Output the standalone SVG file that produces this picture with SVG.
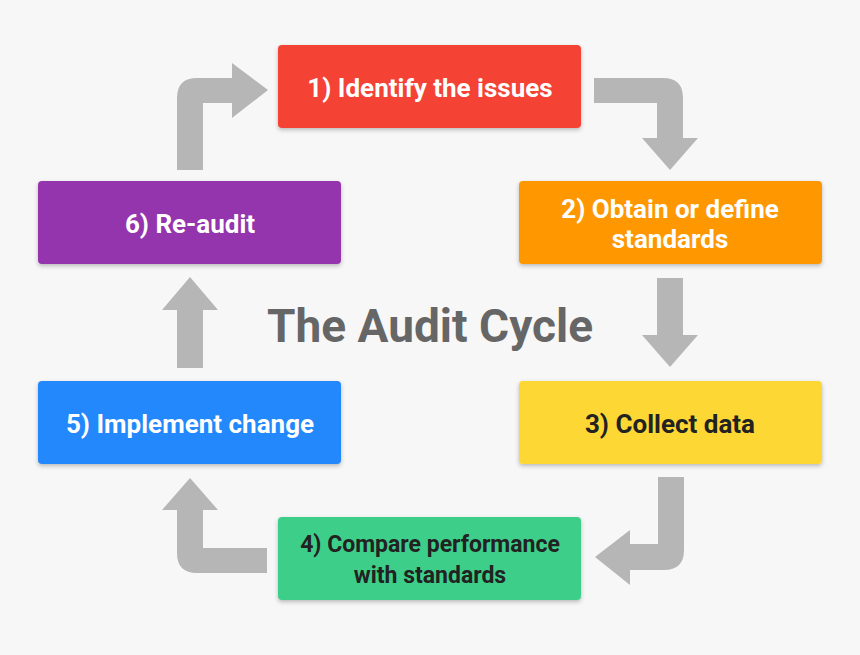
<svg xmlns="http://www.w3.org/2000/svg" width="860" height="655" viewBox="0 0 860 655">
<defs>
<filter id="sh" x="-10%" y="-20%" width="120%" height="150%"><feDropShadow dx="0" dy="2" stdDeviation="2" flood-opacity="0.25"/></filter>
<style>
.b{filter:url(#sh)}
.t{font-family:Roboto,"Liberation Sans",sans-serif;font-weight:bold;font-size:26px;text-anchor:middle;fill:#fff}
.d{fill:#222}
.a{fill:#b5b6b5}
</style>
</defs>
<rect width="860" height="655" fill="#f7f7f7"/>
<g id="connectors">
<path class="a" d="M177,170 L177,98 Q177,78 197,78 L232,78 L232,63 L268,90 L232,118 L232,103 L203,103 L203,170 Z"/>
<path class="a" d="M594,78 L663,78 Q683,78 683,98 L683,138 L698,138 L670,170 L642,138 L657,138 L657,103 L594,103 Z"/>
<path class="a" d="M657,278 L683,278 L683,335 L698,335 L670,367 L642,335 L657,335 Z"/>
<path class="a" d="M658,477 L684,477 L684,550 Q684,570 664,570 L630,570 L630,585 L595,557 L630,530 L630,544 L658,544 Z"/>
<path class="a" d="M267,548 L267,573 L197,573 Q177,573 177,553 L177,510 L162,510 L190,478 L218,510 L203,510 L203,548 Z"/>
<path class="a" d="M177,368 L177,310 L162,310 L190,277 L218,310 L203,310 L203,368 Z"/>
</g>
<g id="n1"><rect class="b" x="278" y="45" width="303" height="83" rx="4" fill="#f44336"/><text class="t" x="430" y="97">1) Identify the issues</text></g>
<g id="n2"><rect class="b" x="519" y="181" width="303" height="83" rx="4" fill="#ff9800"/><text class="t" x="670" y="218">2) Obtain or define</text><text class="t" x="670" y="248">standards</text></g>
<g id="n3"><rect class="b" x="519" y="381" width="303" height="83" rx="4" fill="#fdd835"/><text class="t d" x="670" y="433">3) Collect data</text></g>
<g id="n4"><rect class="b" x="278" y="517" width="303" height="83" rx="4" fill="#3ecf8a"/><text class="t d" x="430" y="552" style="font-size:23px">4) Compare performance</text><text class="t d" x="430" y="583" style="font-size:23px">with standards</text></g>
<g id="n5"><rect class="b" x="38" y="381" width="303" height="83" rx="4" fill="#2188fb"/><text class="t" x="190" y="433">5) Implement change</text></g>
<g id="n6"><rect class="b" x="38" y="181" width="303" height="83" rx="4" fill="#9534ae"/><text class="t" x="190" y="233">6) Re-audit</text></g>
<text x="430" y="342" font-family="Roboto,'Liberation Sans',sans-serif" font-weight="bold" font-size="46" text-anchor="middle" fill="#666">The Audit Cycle</text>
</svg>
